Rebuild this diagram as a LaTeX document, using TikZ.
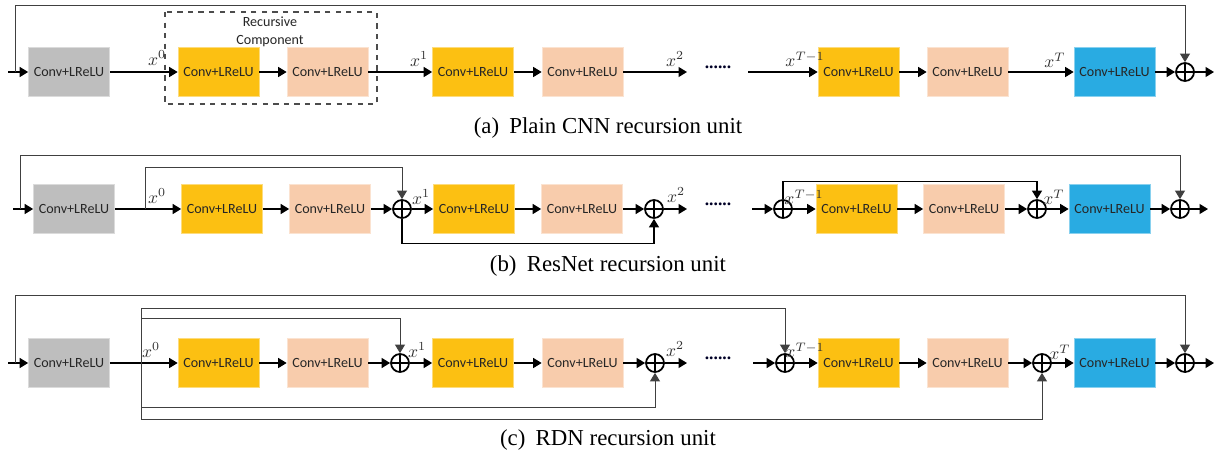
\documentclass[tikz,border=0pt]{standalone}
\usepackage{fontspec}
\setmainfont{Liberation Serif}
\newfontfamily\boxfont{Carlito}
\usepackage{xcolor}
\usetikzlibrary{arrows.meta,positioning,calc}

\definecolor{convgray}{RGB}{190,190,190}
\definecolor{convyellow}{RGB}{252,192,18}
\definecolor{convpeach}{RGB}{248,204,172}
\definecolor{convblue}{RGB}{41,171,226}

\tikzset{
  conv/.style={fill=#1, draw=#1!55!white, line width=0.4pt, minimum width=1.62cm, minimum height=0.98cm,
    inner sep=0pt, font=\boxfont\fontsize{8}{9}\selectfont, text=black!85},
  sumnode/.style={circle, draw, line width=1pt, minimum size=0.36cm, inner sep=0pt,
    path picture={\draw[line width=1pt] (path picture bounding box.north) -- (path picture bounding box.south)
      (path picture bounding box.west) -- (path picture bounding box.east);}},
  flow/.style={-{Triangle[length=1.7mm,width=2mm]}, line width=0.8pt},
  fb/.style={draw=black!75, line width=0.5pt},
  fbarrow/.style={fb, -{Triangle[length=1.7mm,width=2mm]}},
  xlab/.style={font=\fontsize{10}{12}\selectfont, text=black!80},
  dots/.style={font=\fontsize{10}{12}\selectfont\bfseries, text=black!85!blue},
  caption/.style={font=\fontsize{13}{15}\selectfont}
}

\begin{document}
\begin{tikzpicture}[x=0.02cm, y=-0.02cm]
    \useasboundingbox (0,0) rectangle (1221,460);

    % (a) Plain CNN
    \node[conv=convgray]   (ga)  at (69,72)     {Conv+LReLU};
    \node[conv=convyellow] (ya1) at (218.5,72)  {Conv+LReLU};
    \node[conv=convpeach]  (pa1) at (327.5,72)  {Conv+LReLU};
    \node[conv=convyellow] (ya2) at (473,72)    {Conv+LReLU};
    \node[conv=convpeach]  (pa2) at (582.5,72)  {Conv+LReLU};
    \node[conv=convyellow] (ya3) at (858.5,72)  {Conv+LReLU};
    \node[conv=convpeach]  (pa3) at (967.5,72)  {Conv+LReLU};
    \node[conv=convblue]   (ba)  at (1114.5,72) {Conv+LReLU};
    \node[sumnode] (sa) at (1185,72) {};
    \coordinate (ina) at (8,72);   \coordinate (fba) at (15,72);
    \coordinate (oa2) at (687,72); \coordinate (ia3) at (748,72);
    \coordinate (outa) at (1214,72);
    \node[dots] (dta) at (718,67) {......};

    \draw[dashed, black!70, line width=0.6pt] (165,12) rectangle (377,104);
    \node[font=\boxfont\fontsize{8}{10}\selectfont, align=center, text=black!85] (rc) at (270,32) {Recursive\\Component};

    \draw[flow] (ina) -- (ga);
    \draw[flow] (ga) -- (ya1);
    \draw[flow] (ya1) -- (pa1);
    \draw[flow] (pa1) -- (ya2);
    \draw[flow] (ya2) -- (pa2);
    \draw[flow] (pa2) -- (oa2);
    \draw[flow] (ia3) -- (ya3);
    \draw[flow] (ya3) -- (pa3);
    \draw[flow] (pa3) -- (ba);
    \draw[flow] (ba) -- (sa);
    \draw[flow] (sa) -- (outa);
    \draw[fbarrow] (fba) -- ++(0,-67) -| (sa.north);

    \node[xlab] (xa0) at (157,58) {$x^{0}$};
    \node[xlab] (xa1) at (419,59) {$x^{1}$};
    \node[xlab] (xa2) at (675,59) {$x^{2}$};
    \node[xlab] (xa3) at (805,59) {$x^{T-1}$};
    \node[xlab] (xa4) at (1055,60) {$x^{T}$};
    \node[caption] (capa) at (608,128) {(a)\hspace{0.45em}Plain CNN recursion unit};

    % (b) ResNet
    \node[conv=convgray]   (gb)  at (74,209)     {Conv+LReLU};
    \node[conv=convyellow] (yb1) at (222,209)    {Conv+LReLU};
    \node[conv=convpeach]  (pb1) at (330,209)    {Conv+LReLU};
    \node[sumnode] (sb1) at (402,209) {};
    \node[conv=convyellow] (yb2) at (474,209)    {Conv+LReLU};
    \node[conv=convpeach]  (pb2) at (582,209)    {Conv+LReLU};
    \node[sumnode] (sb2) at (654,209) {};
    \node[sumnode] (sb3) at (783,209) {};
    \node[conv=convyellow] (yb3) at (856.5,209)  {Conv+LReLU};
    \node[conv=convpeach]  (pb3) at (964,209)    {Conv+LReLU};
    \node[sumnode] (sb4) at (1037,209) {};
    \node[conv=convblue]   (bb)  at (1109.5,209) {Conv+LReLU};
    \node[sumnode] (sb5) at (1180,209) {};
    \coordinate (inb) at (13,209);  \coordinate (fbb) at (20,209);
    \coordinate (brb) at (145,209);
    \coordinate (ob2) at (687,209); \coordinate (ib3) at (752,209);
    \coordinate (outb) at (1208,209);
    \node[dots] (dtb) at (718,204) {......};

    \draw[flow] (inb) -- (gb);
    \draw[flow] (gb) -- (yb1);
    \draw[flow] (yb1) -- (pb1);
    \draw[flow] (pb1) -- (sb1);
    \draw[flow] (sb1) -- (yb2);
    \draw[flow] (yb2) -- (pb2);
    \draw[flow] (pb2) -- (sb2);
    \draw[flow] (sb2) -- (ob2);
    \draw[flow] (ib3) -- (sb3);
    \draw[flow] (sb3) -- (yb3);
    \draw[flow] (yb3) -- (pb3);
    \draw[flow] (pb3) -- (sb4);
    \draw[flow] (sb4) -- (bb);
    \draw[flow] (bb) -- (sb5);
    \draw[flow] (sb5) -- (outb);
    \draw[fbarrow] (fbb) -- ++(0,-54) -| (sb5.north);
    \draw[fbarrow] (brb) -- ++(0,-42) -| (sb1.north);
    \draw[fbarrow, draw=black, line width=0.7pt] (sb1.south) -- ++(0,25) -| (sb2.south);
    \draw[fbarrow, draw=black, line width=0.7pt] (sb3.north) -- ++(0,-18) -| (sb4.north);

    \node[xlab] (xb0) at (157,196) {$x^{0}$};
    \node[xlab] (xb1) at (421,197) {$x^{1}$};
    \node[xlab] (xb2) at (676,195) {$x^{2}$};
    \node[xlab] (xb3) at (804,197) {$x^{T-1}$};
    \node[xlab] (xb4) at (1054,197) {$x^{T}$};
    \node[caption] (capb) at (608,266) {(b)\hspace{0.45em}ResNet recursion unit};

    % (c) RDN
    \node[conv=convgray]   (gc)  at (69,363)     {Conv+LReLU};
    \node[conv=convyellow] (yc1) at (218.5,363)  {Conv+LReLU};
    \node[conv=convpeach]  (pc1) at (327.5,363)  {Conv+LReLU};
    \node[sumnode] (sc1) at (400,363) {};
    \node[conv=convyellow] (yc2) at (473,363)    {Conv+LReLU};
    \node[conv=convpeach]  (pc2) at (582.5,363)  {Conv+LReLU};
    \node[sumnode] (sc2) at (655,363) {};
    \node[sumnode] (sc3) at (785,363) {};
    \node[conv=convyellow] (yc3) at (858.5,363)  {Conv+LReLU};
    \node[conv=convpeach]  (pc3) at (967.5,363)  {Conv+LReLU};
    \node[sumnode] (sc4) at (1042,363) {};
    \node[conv=convblue]   (bc)  at (1114.5,363) {Conv+LReLU};
    \node[sumnode] (sc5) at (1185,363) {};
    \coordinate (inc) at (8,363);   \coordinate (fbc) at (15,363);
    \coordinate (brc) at (141,363);
    \coordinate (brtop) at (141,308); \coordinate (brbot) at (141,419);
    \coordinate (oc2) at (687,363); \coordinate (ic3) at (753,363);
    \coordinate (outc) at (1214,363);
    \node[dots] (dtc) at (718,358) {......};

    \draw[flow] (inc) -- (gc);
    \draw[flow] (gc) -- (yc1);
    \draw[flow] (yc1) -- (pc1);
    \draw[flow] (pc1) -- (sc1);
    \draw[flow] (sc1) -- (yc2);
    \draw[flow] (yc2) -- (pc2);
    \draw[flow] (pc2) -- (sc2);
    \draw[flow] (sc2) -- (oc2);
    \draw[flow] (ic3) -- (sc3);
    \draw[flow] (sc3) -- (yc3);
    \draw[flow] (yc3) -- (pc3);
    \draw[flow] (pc3) -- (sc4);
    \draw[flow] (sc4) -- (bc);
    \draw[flow] (bc) -- (sc5);
    \draw[flow] (sc5) -- (outc);
    \draw[fbarrow] (fbc) -- ++(0,-68) -| (sc5.north);
    \draw[fb] (brtop) -- (brbot);
    \draw[fbarrow] (brtop) -| (sc3.north);
    \draw[fbarrow] (brc) ++(0,-45) -| (sc1.north);
    \draw[fbarrow] (brc) ++(0,44) -| (sc2.south);
    \draw[fbarrow] (brbot) -| (sc4.south);

    \node[xlab] (xc0) at (151,350) {$x^{0}$};
    \node[xlab] (xc1) at (417,350) {$x^{1}$};
    \node[xlab] (xc2) at (675,349) {$x^{2}$};
    \node[xlab] (xc3) at (805,350) {$x^{T-1}$};
    \node[xlab] (xc4) at (1060,352) {$x^{T}$};
    \node[caption] (capc) at (608,440) {(c)\hspace{0.45em}RDN recursion unit};
\end{tikzpicture}
\end{document}
